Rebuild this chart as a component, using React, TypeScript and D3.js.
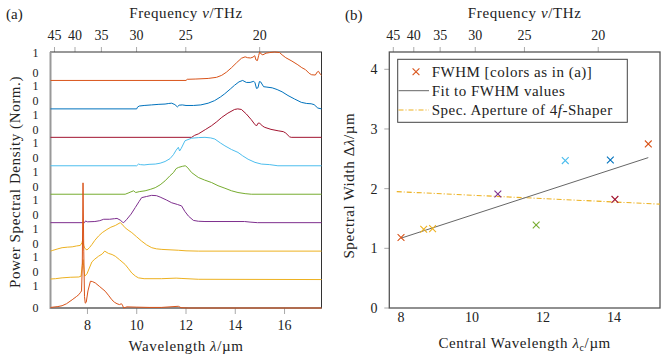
import React from "react";
import * as d3 from "d3";

// speed of light in µm·THz, for the frequency axis on top
const C = 299.792458;

const freqTicks = [45, 40, 35, 30, 25, 20];
const wlTicksA = [8, 10, 12, 14, 16];
const wlTicksB = [8, 10, 12, 14];
const widthTicks = [0, 1, 2, 3, 4];

// spectra, top to bottom: [wavelength µm, normalized PSD]
const trace1 = [[6.5,0],[12.0,0],[12.05,0.04],[12.4,0.05],[12.9,0.07],[13.24,0.11],[13.45,0.18],[13.64,0.29],[13.85,0.45],[14.05,0.62],[14.25,0.78],[14.4,0.83],[14.5,0.8],[14.62,0.79],[14.72,0.82],[14.79,0.87],[14.84,0.72],[14.9,0.7],[14.95,0.88],[14.99,1.0],[15.05,0.93],[15.12,0.9],[15.25,0.96],[15.4,0.98],[15.6,1.0],[15.8,0.98],[15.9,0.9],[16.05,0.8],[16.3,0.68],[16.54,0.55],[16.7,0.45],[16.85,0.38],[17.0,0.25],[17.1,0.2],[17.25,0.19],[17.33,0.3],[17.38,0.32],[17.45,0.22],[17.5,0.18]];
const trace2 = [[6.5,0],[10.0,0],[10.03,0.06],[10.1,0.1],[10.3,0.12],[10.6,0.14],[10.9,0.16],[11.15,0.17],[11.3,0.19],[11.42,0.2],[11.55,0.15],[11.65,0.07],[11.72,0.13],[11.85,0.14],[12.0,0.12],[12.3,0.12],[12.6,0.14],[12.9,0.2],[13.16,0.29],[13.4,0.42],[13.57,0.53],[13.8,0.7],[13.97,0.83],[14.15,0.95],[14.3,1.0],[14.45,0.93],[14.6,0.93],[14.75,0.97],[14.8,0.92],[14.86,0.72],[14.92,0.74],[14.98,0.96],[15.03,0.95],[15.15,0.78],[15.25,0.77],[15.5,0.74],[15.7,0.68],[15.9,0.6],[16.14,0.47],[16.4,0.35],[16.68,0.23],[16.9,0.19],[17.08,0.18],[17.2,0.15],[17.35,0.03],[17.5,0]];
const trace3 = [[6.5,0],[12.23,0],[12.35,0.07],[12.5,0.12],[12.8,0.28],[13.04,0.41],[13.25,0.55],[13.45,0.7],[13.7,0.85],[13.97,0.98],[14.1,1.0],[14.25,0.98],[14.45,0.82],[14.65,0.62],[14.78,0.47],[14.86,0.4],[14.93,0.5],[14.99,0.5],[15.1,0.4],[15.2,0.35],[15.45,0.28],[15.74,0.23],[15.95,0.2],[16.05,0.15],[16.2,0.02],[16.27,0],[17.5,0]];
const trace4 = [[6.5,0],[10.0,0],[10.07,0.06],[10.15,0.04],[10.3,0.03],[10.5,0.05],[10.75,0.06],[10.95,0.09],[11.15,0.15],[11.35,0.25],[11.49,0.39],[11.6,0.55],[11.69,0.65],[11.74,0.52],[11.8,0.6],[11.96,0.88],[12.23,0.97],[12.5,0.99],[12.77,1.0],[13.0,0.98],[13.17,0.94],[13.4,0.8],[13.58,0.7],[13.85,0.57],[14.11,0.47],[14.3,0.35],[14.52,0.23],[14.8,0.12],[15.06,0.06],[15.4,0.04],[15.73,0],[17.5,0]];
const trace5 = [[6.5,0],[9.53,0],[9.65,0.04],[9.73,0.07],[9.87,0.12],[9.96,0.06],[10.1,0.09],[10.34,0.12],[10.55,0.17],[10.75,0.23],[10.95,0.33],[11.15,0.47],[11.35,0.65],[11.49,0.76],[11.6,0.9],[11.69,0.94],[11.85,0.98],[11.97,1.0],[12.05,0.95],[12.23,0.76],[12.5,0.59],[12.75,0.5],[13.04,0.41],[13.3,0.3],[13.58,0.21],[13.85,0.12],[14.11,0.06],[14.4,0.02],[14.65,0],[17.5,0]];
const trace6 = [[6.5,0],[7.88,0],[7.92,0.06],[8.0,0.03],[8.3,0.04],[8.5,0.07],[8.66,0.12],[8.9,0.12],[9.1,0.14],[9.2,0.15],[9.33,0.09],[9.42,0.02],[9.47,0],[9.6,0.12],[9.77,0.3],[9.94,0.53],[10.1,0.75],[10.2,0.88],[10.4,0.92],[10.6,0.96],[10.8,0.95],[10.95,0.9],[11.2,0.8],[11.42,0.7],[11.65,0.64],[11.82,0.59],[11.95,0.4],[12.1,0.23],[12.3,0.08],[12.5,0.05],[12.77,0.04],[14.38,0.04],[14.6,0.02],[14.9,0],[17.5,0]];
const trace7 = [[6.5,0],[6.57,0.02],[6.8,0.08],[6.97,0.12],[7.2,0.14],[7.38,0.15],[7.55,0.18],[7.71,0.2],[7.78,0.3],[7.81,0.41],[7.85,0.2],[7.89,0.1],[7.98,0.04],[8.08,0.12],[8.18,0.23],[8.3,0.38],[8.45,0.53],[8.6,0.65],[8.79,0.76],[8.95,0.84],[9.13,0.9],[9.33,1.0],[9.4,0.95],[9.53,0.82],[9.65,0.74],[9.8,0.65],[10.0,0.5],[10.2,0.35],[10.4,0.22],[10.61,0.12],[10.8,0.08],[11.02,0.06],[11.69,0.03],[12.0,0.01],[12.5,0],[17.5,0]];
const trace8 = [[6.5,0.02],[6.7,0.03],[6.97,0.06],[7.3,0.08],[7.65,0.09],[7.74,0.12],[7.78,0.45],[7.82,0.7],[7.86,0.35],[7.89,0.12],[7.98,0.2],[8.18,0.62],[8.3,0.72],[8.45,0.82],[8.6,0.9],[8.7,1.0],[8.85,0.92],[9.0,0.88],[9.13,0.82],[9.3,0.7],[9.53,0.53],[9.65,0.4],[9.8,0.23],[9.95,0.12],[10.07,0.06],[10.3,0.03],[11.0,0.03],[11.6,0.05],[11.8,0.04],[12.5,0.01],[17.5,0]];
const trace9 = [[6.5,0.02],[6.6,0.03],[6.8,0.05],[6.97,0.08],[7.15,0.15],[7.38,0.29],[7.55,0.4],[7.65,0.47],[7.72,0.55],[7.76,0.6],[7.79,1.5],[7.82,4.4],[7.85,2.0],[7.88,0.4],[7.91,0.17],[7.95,0.2],[8.02,0.6],[8.12,0.94],[8.2,0.93],[8.32,0.88],[8.5,0.75],[8.72,0.59],[8.85,0.45],[8.99,0.29],[9.1,0.2],[9.2,0.15],[9.3,0.12],[9.38,0.15],[9.42,0.1],[9.47,0],[9.6,0.04],[10.0,0.03],[10.5,0.02],[11.0,0.02],[11.69,0.06],[11.8,0.01],[12.1,0],[17.5,0]];
const traces = [trace1, trace2, trace3, trace4, trace5, trace6, trace7, trace8, trace9];
const traceColors = ["#D95319", "#0072BD", "#A2142F", "#4DBEEE", "#77AC30", "#7E2F8E", "#EDB120", "#EDB120", "#D95319"];

// panel (b)
const fwhmCenter = [8.0, 8.64, 8.89, 10.73, 11.81, 12.63, 13.9, 14.03, 14.97];
const fwhmWidth = [1.18, 1.32, 1.33, 1.91, 1.39, 2.47, 2.48, 1.82, 2.75];
const fwhmColor = ["#D95319", "#EDB120", "#EDB120", "#7E2F8E", "#77AC30", "#4DBEEE", "#0072BD", "#A2142F", "#D95319"];
const fitX = [8.0, 14.97];
const fitY = [1.17, 2.52];
const apertureX = [7.88, 15.3];
const apertureY = [1.95, 1.74];

const FONT = "'Liberation Serif', 'Times New Roman', serif";
const TXT = "#222";

export default function App() {
  const a = { left: 50.5, right: 321.5, top: 52, bottom: 308 };
  const b = { left: 389.3, right: 660, top: 52, bottom: 308 };

  const xA = d3.scaleLinear().domain([6.5, 17.5]).range([a.left, a.right]);
  const yA = d3.scaleLinear().domain([0, traces.length]).range([a.bottom, a.top]);
  const xB = d3.scaleLinear().domain([7.67, 15.3]).range([b.left, b.right]);
  const xBTop = d3.scaleLinear().domain([6.5, 17.5]).range([b.left, b.right]);
  const yB = d3.scaleLinear().domain([0, 4.29]).range([b.bottom, b.top]);

  const n = traces.length;
  const tracePath = (pts, offset) =>
    d3.line().x(d => xA(d[0])).y(d => yA(offset + d[1]))(pts);

  const fitPath = d3.line().x(d => xB(d[0])).y(d => yB(d[1]))(fitX.map((x, i) => [x, fitY[i]]));
  const apPath = d3.line().x(d => xB(d[0])).y(d => yB(d[1]))(apertureX.map((x, i) => [x, apertureY[i]]));

  const cross = (x, y, s, color, key) => (
    <path key={key} d={`M${x - s},${y - s}L${x + s},${y + s}M${x - s},${y + s}L${x + s},${y - s}`}
      stroke={color} strokeWidth={1.1} fill="none" />
  );

  return (
    <svg width={664} height={360} style={{ position: "absolute", left: 0, top: 0, background: "#fff" }}
      fontFamily={FONT} fill={TXT}>
      <defs>
        <clipPath id="clipB"><rect x={b.left} y={b.top} width={b.right - b.left} height={b.bottom - b.top} /></clipPath>
      </defs>

      {/* ---------- panel (a) ---------- */}
      <text x={6} y={19} fontSize={15}>(a)</text>
      <text x={(a.left + a.right) / 2} y={18} fontSize={15} textAnchor="middle" letterSpacing={0.6}>
        Frequency <tspan fontStyle="italic">ν</tspan>/THz
      </text>
      {freqTicks.map(f => (
        <g key={f}>
          <line x1={xA(C / f)} x2={xA(C / f)} y1={a.top} y2={a.top - 5} stroke="#aaa" />
          <text x={xA(C / f)} y={40} fontSize={14} textAnchor="middle">{f}</text>
        </g>
      ))}
      {wlTicksA.map(w => (
        <g key={w}>
          <line x1={xA(w)} x2={xA(w)} y1={a.bottom} y2={a.bottom + 6} stroke="#aaa" />
          <text x={xA(w)} y={330} fontSize={14} textAnchor="middle">{w}</text>
        </g>
      ))}
      <text x={(a.left + a.right) / 2} y={351} fontSize={15} textAnchor="middle" letterSpacing={0.6}>
        Wavelength <tspan fontStyle="italic">λ</tspan>/µm
      </text>
      <text transform={`translate(20,${(a.top + a.bottom) / 2 + 2}) rotate(-90)`} fontSize={15} textAnchor="middle" letterSpacing={0.6}>
        Power Spectral Density (Norm.)
      </text>
      {d3.range(n).map(k => (
        <g key={k} fontSize={12} textAnchor="end">
          <text x={38.5} y={yA(k) + (k > 0 ? -3.5 : 4)}>0</text>
          <text x={38.5} y={yA(k + 1) + (k < n - 1 ? 10 : 5)}>1</text>
        </g>
      ))}
      <rect x={a.left} y={a.top} width={a.right - a.left} height={a.bottom - a.top} fill="none" stroke="#333" strokeWidth={1} />
      <line x1={a.left} x2={a.left} y1={a.top} y2={a.bottom + 1} stroke="#999" strokeWidth={2} />
      <line x1={a.left} x2={a.right} y1={a.bottom} y2={a.bottom} stroke="#777" strokeWidth={1.2} />
      {traces.map((t, i) => (
        <path key={i} d={tracePath(t, n - 1 - i)} fill="none" stroke={traceColors[i]} strokeWidth={1} strokeLinejoin="round" />
      ))}

      {/* ---------- panel (b) ---------- */}
      <text x={345} y={20} fontSize={15}>(b)</text>
      <text x={(b.left + b.right) / 2} y={18} fontSize={15} textAnchor="middle" letterSpacing={0.6}>
        Frequency <tspan fontStyle="italic">ν</tspan>/THz
      </text>
      {freqTicks.map(f => (
        <g key={f}>
          <line x1={xBTop(C / f)} x2={xBTop(C / f)} y1={b.top} y2={b.top - 5} stroke="#aaa" />
          <text x={xBTop(C / f)} y={40} fontSize={14} textAnchor="middle">{f}</text>
        </g>
      ))}
      {wlTicksB.map(w => (
        <text key={w} x={xB(w)} y={322} fontSize={14} textAnchor="middle">{w}</text>
      ))}
      {widthTicks.map(v => (
        <g key={v}>
          <line x1={b.left - 5} x2={b.left} y1={yB(v)} y2={yB(v)} stroke="#aaa" />
          <text x={377.5} y={yB(v) + 5} fontSize={14} textAnchor="end">{v}</text>
        </g>
      ))}
      <text x={(b.left + b.right) / 2} y={348} fontSize={15} textAnchor="middle" letterSpacing={0.6}>
        Central Wavelength <tspan fontStyle="italic">λ</tspan><tspan fontSize={10} dy={3}>c</tspan><tspan dy={-3}>/µm</tspan>
      </text>
      <text transform={`translate(354,${yB(2.05)}) rotate(-90)`} fontSize={15} textAnchor="middle" letterSpacing={0.6}>
        Spectral Width Δ<tspan fontStyle="italic">λ</tspan>/µm
      </text>
      <rect x={b.left} y={b.top} width={b.right - b.left} height={b.bottom - b.top} fill="none" stroke="#555" strokeWidth={1.3} />
      <g clipPath="url(#clipB)">
        <path d={apPath} fill="none" stroke="#EDB120" strokeWidth={1.1} strokeDasharray="5 2 1 2" />
        <path d={fitPath} fill="none" stroke="#666" strokeWidth={1} />
        {fwhmCenter.map((c, i) => cross(xB(c), yB(fwhmWidth[i]), 3.4, fwhmColor[i], i))}
      </g>

      {/* legend */}
      <g fontSize={15}>
        <rect x={397.7} y={59.3} width={229.6} height={63} fill="#fff" stroke="#444" strokeWidth={1} />
        {cross(416, 71.7, 3.4, "#D95319", "lg")}
        <text x={431.7} y={76.7} letterSpacing={0.5}>FWHM [colors as in (a)]</text>
        <line x1={398.5} x2={429} y1={90.7} y2={90.7} stroke="#666" />
        <text x={431.7} y={95.7} letterSpacing={0.5}>Fit to FWHM values</text>
        <line x1={398.5} x2={429} y1={110} y2={110} stroke="#EDB120" strokeWidth={1.1} strokeDasharray="5 2 1 2" />
        <text x={431.7} y={115} letterSpacing={0.5}>Spec. Aperture of 4<tspan fontStyle="italic">f</tspan>-Shaper</text>
      </g>
    </svg>
  );
}
